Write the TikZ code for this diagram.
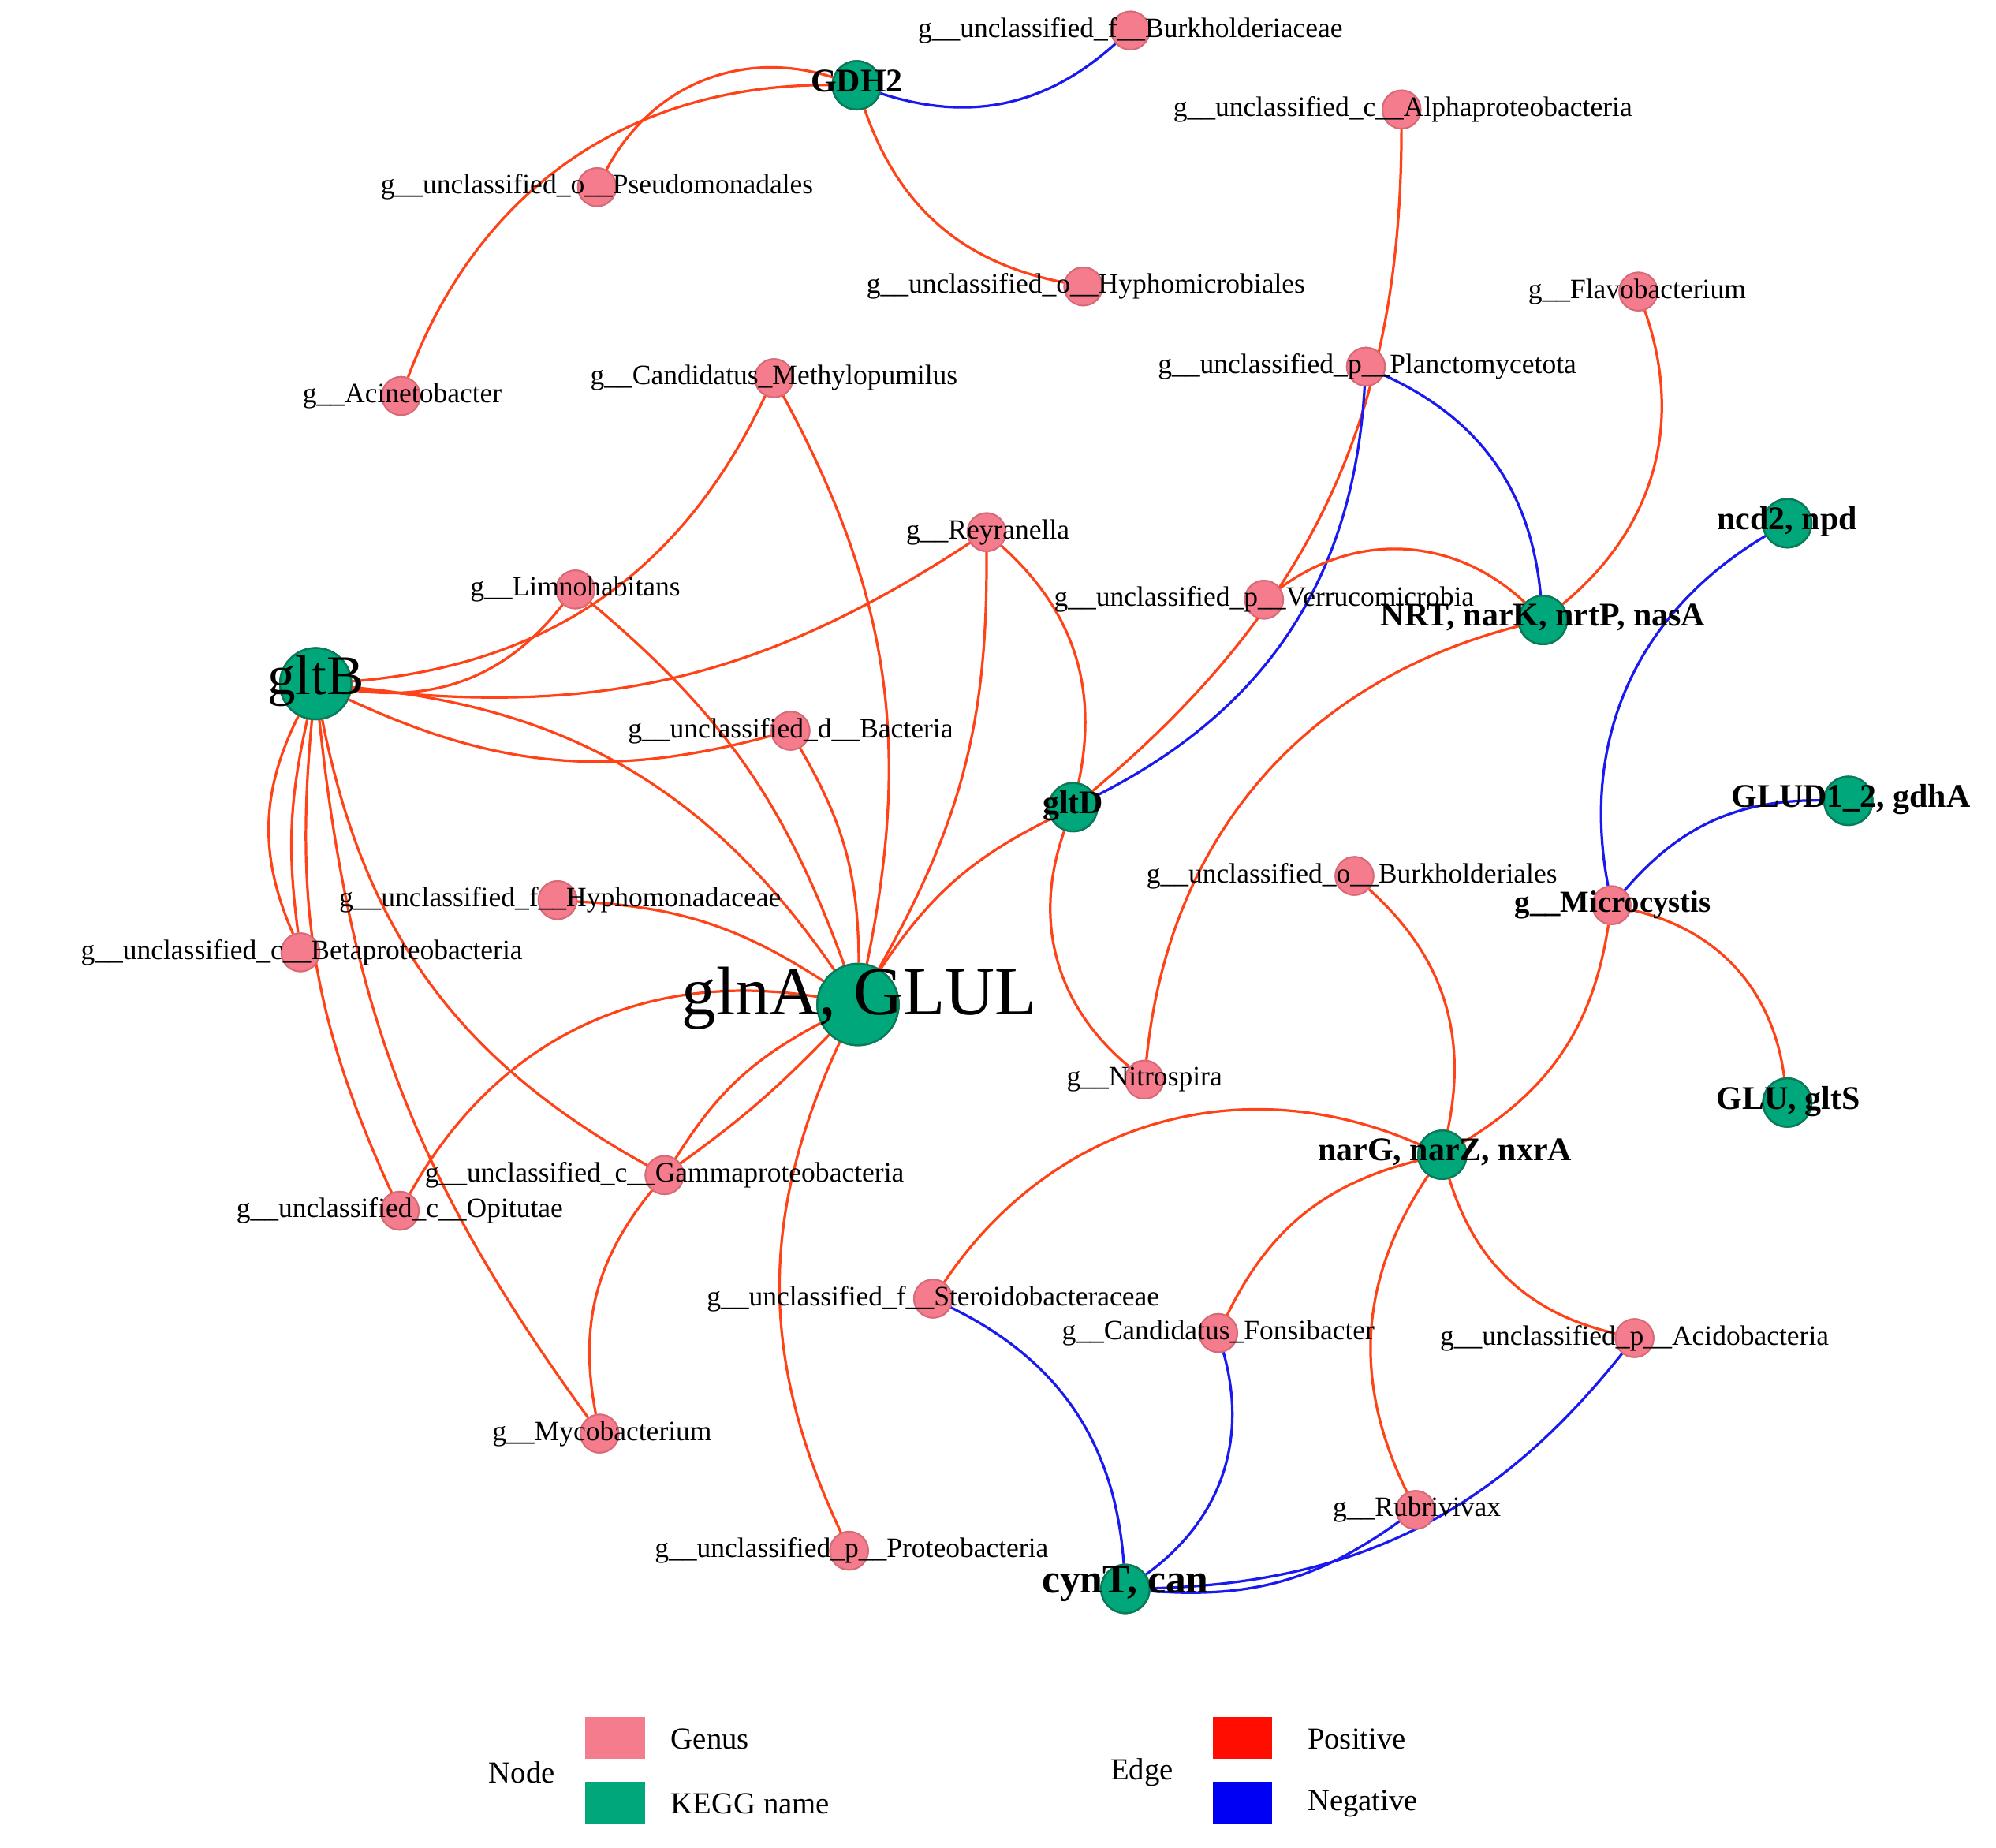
\documentclass[tikz,border=0pt]{standalone}
\usepackage{fontspec}
\setmainfont{Liberation Serif}
\begin{document}
\begin{tikzpicture}[x=1pt,y=-1pt,
 gen/.style={circle,fill=pinkc,draw=pinkd,line width=1.2pt,minimum size=30pt,inner sep=0pt},
 keg/.style={circle,fill=greenc,draw=greend,line width=1.5pt,minimum size=38pt,inner sep=0pt},
 lab/.style={font=\fontsize{22}{25}\selectfont,inner sep=0pt},
 klab/.style={font=\fontsize{26}{29}\selectfont\bfseries,inner sep=0pt},
 pe/.style={draw=posc,line width=2pt},
 ne/.style={draw=negc,line width=2pt},
 vl/.style={bend left=#1},
 vr/.style={bend right=#1}]
\definecolor{pinkc}{HTML}{F47C8C}\definecolor{pinkd}{HTML}{D86A78}
\definecolor{greenc}{HTML}{00A77A}\definecolor{greend}{HTML}{0A7A58}
\definecolor{posc}{HTML}{FF4218}\definecolor{negc}{HTML}{1A1AF0}
\useasboundingbox[fill=white] (0,0) rectangle (1568,1451);
% nodes
\node[keg] (gdh) at (673,67) {};
\node[gen] (burkf) at (888,24) {};
\node[gen] (alpha) at (1101,86) {};
\node[gen] (pseudo) at (469,147) {};
\node[gen] (hyphmi) at (851,225) {};
\node[gen] (flavo) at (1287,229) {};
\node[gen] (acin) at (315,311) {};
\node[gen] (methy) at (608,297) {};
\node[gen] (planc) at (1073,288) {};
\node[gen] (reyr) at (775,418) {};
\node[gen] (limno) at (452,463) {};
\node[gen] (verru) at (993,471) {};
\node[keg] (nrt) at (1212,487) {};
\node[keg] (ncd) at (1404,411) {};
\node[keg,minimum size=56pt] (gltb) at (248,537) {};
\node[gen] (bact) at (621,574) {};
\node[keg] (gltd) at (843,634) {};
\node[keg] (glud) at (1452,629) {};
\node[gen] (hyphmo) at (438,707) {};
\node[gen] (burko) at (1064,688) {};
\node[gen] (micro) at (1266,711) {};
\node[gen] (beta) at (236,748) {};
\node[keg,minimum size=64pt] (glna) at (674,789) {};
\node[gen] (nitro) at (899,848) {};
\node[keg] (glu) at (1404,866) {};
\node[keg] (narg) at (1133,907) {};
\node[gen] (gamma) at (522,923) {};
\node[gen] (opit) at (314,951) {};
\node[gen] (stero) at (733,1020) {};
\node[gen] (fonsi) at (957,1047) {};
\node[gen] (acido) at (1284,1051) {};
\node[gen] (myco) at (471,1126) {};
\node[gen] (rubri) at (1112,1186) {};
\node[gen] (prot) at (667,1218) {};
\node[keg] (cynt) at (884,1248) {};
% edges
\path[ne] (gdh) to[vr=30] (burkf);
\path[pe] (gdh) to[vr=40] (pseudo);
\path[pe] (gdh) to[vr=35] (acin);
\path[pe] (gdh) to[vr=30] (hyphmi);
\path[pe] (alpha) to[vl=25] (gltd);
\path[ne] (planc) to[vl=30] (gltd);
\path[ne] (planc) to[vl=30] (nrt);
\path[pe] (flavo) to[vl=35] (nrt);
\path[pe] (verru) to[vl=40] (nrt);
\path[pe] (nrt) to[vr=35] (nitro);
\path[ne] (ncd) to[vr=35] (micro);
\path[ne] (glud) to[vr=25] (micro);
\path[pe] (micro) to[vl=35] (glu);
\path[pe] (micro) to[vl=25] (narg);
\path[pe] (burko) to[vl=30] (narg);
\path[pe] (methy) to[vl=30] (gltb);
\path[pe] (methy) to[vl=20] (glna);
\path[pe] (reyr) to[vl=20] (gltb);
\path[pe] (reyr) to[vl=15] (glna);
\path[pe] (reyr) to[vl=30] (gltd);
\path[pe] (limno) to[vl=30] (gltb);
\path[pe] (limno) to[vl=15] (glna);
\path[pe] (gltb) to[vr=20] (bact);
\path[pe] (gltb) to[vl=25] (glna);
\path[pe] (hyphmo) to[vl=15] (glna);
\path[pe] (bact) to[vl=15] (glna);
\path[pe] (gltb) to[vr=25] (beta);
\path[pe] (gltb) to[vr=10] (beta);
\path[pe] (gltb) to[vr=15] (opit);
\path[pe] (gltb) to[vr=15] (myco);
\path[pe] (gltb) to[vr=25] (gamma);
\path[pe] (glna) to[vr=35] (opit);
\path[pe] (glna) to[vr=15] (gamma);
\path[pe] (glna) to[vl=5] (gamma);
\path[pe] (glna) to[vr=25] (prot);
\path[pe] (glna) to[vl=15] (gltd);
\path[pe] (gamma) to[vr=25] (myco);
\path[pe] (gltd) to[vr=35] (nitro);
\path[pe] (narg) to[vr=40] (stero);
\path[pe] (narg) to[vr=25] (fonsi);
\path[pe] (narg) to[vr=30] (acido);
\path[pe] (narg) to[vr=30] (rubri);
\path[ne] (stero) to[vl=30] (cynt);
\path[ne] (fonsi) to[vl=35] (cynt);
\path[ne] (acido) to[vl=25] (cynt);
\path[ne] (rubri) to[vl=20] (cynt);
% redraw nodes on top
\foreach \x/\y in {888/24,1101/86,469/147,851/225,1287/229,315/311,608/297,1073/288,775/418,452/463,993/471,621/574,438/707,1064/688,1266/711,236/748,899/848,522/923,314/951,733/1020,957/1047,1284/1051,471/1126,1112/1186,667/1218}
  \node[gen] at (\x,\y) {};
\foreach \x/\y in {673/67,1212/487,1404/411,843/634,1452/629,1404/866,1133/907,884/1248}
  \node[keg] at (\x,\y) {};
\node[keg,minimum size=56pt] at (248,537) {};
\node[keg,minimum size=64pt] at (674,789) {};
% labels
\node[lab] (l1) at (888,24) {g\_\_unclassified\_f\_\_Burkholderiaceae};
\node[lab] (l2) at (1102,86) {g\_\_unclassified\_c\_\_Alphaproteobacteria};
\node[lab] (l3) at (469,147) {g\_\_unclassified\_o\_\_Pseudomonadales};
\node[lab] (l4) at (853,225) {g\_\_unclassified\_o\_\_Hyphomicrobiales};
\node[lab] (l5) at (1286,229) {g\_\_Flavobacterium};
\node[lab] (l6) at (316,311) {g\_\_Acinetobacter};
\node[lab] (l7) at (608,297) {g\_\_Candidatus\_Methylopumilus};
\node[lab] (l8) at (1074,288) {g\_\_unclassified\_p\_\_Planctomycetota};
\node[lab] (l9) at (776,418) {g\_\_Reyranella};
\node[lab] (l10) at (452,463) {g\_\_Limnohabitans};
\node[lab] (l11) at (993,471) {g\_\_unclassified\_p\_\_Verrucomicrobia};
\node[lab] (l12) at (621,574) {g\_\_unclassified\_d\_\_Bacteria};
\node[lab] (l13) at (440,707) {g\_\_unclassified\_f\_\_Hyphomonadaceae};
\node[lab] (l14) at (1062,688) {g\_\_unclassified\_o\_\_Burkholderiales};
\node[lab] (l15) at (237,748) {g\_\_unclassified\_c\_\_Betaproteobacteria};
\node[lab] (l16) at (899,848) {g\_\_Nitrospira};
\node[lab] (l17) at (522,923) {g\_\_unclassified\_c\_\_Gammaproteobacteria};
\node[lab] (l18) at (314,951) {g\_\_unclassified\_c\_\_Opitutae};
\node[lab] (l19) at (733,1020) {g\_\_unclassified\_f\_\_Steroidobacteraceae};
\node[lab] (l20) at (957,1047) {g\_\_Candidatus\_Fonsibacter};
\node[lab] (l21) at (1284,1051) {g\_\_unclassified\_p\_\_Acidobacteria};
\node[lab] (l22) at (473,1126) {g\_\_Mycobacterium};
\node[lab] (l23) at (1113,1186) {g\_\_Rubrivivax};
\node[lab] (l24) at (669,1218) {g\_\_unclassified\_p\_\_Proteobacteria};
\node[klab,font=\fontsize{24}{27}\selectfont\bfseries] (l25) at (1267,711) {g\_\_Microcystis};
\node[klab] (k1) at (673,64) {GDH2};
\node[klab] (k2) at (1212,485) {NRT, narK, nrtP, nasA};
\node[klab] (k3) at (1404,410) {ncd2, npd};
\node[lab,font=\fontsize{44}{48}\selectfont] (k4) at (248,535) {gltB};
\node[klab] (k5) at (843,633) {gltD};
\node[klab] (k6) at (1454,628) {GLUD1\_2, gdhA};
\node[lab,font=\fontsize{54}{58}\selectfont] (k7) at (675,784) {glnA, GLUL};
\node[klab] (k8) at (1405,865) {GLU, gltS};
\node[klab] (k9) at (1135,905) {narG, narZ, nxrA};
\node[klab,font=\fontsize{32}{36}\selectfont\bfseries] (k10) at (884,1244) {cynT, can};
% legend
\node[lab,font=\fontsize{24}{28}\selectfont] (ln) at (410,1392) {Node};
\node[fill=pinkc,minimum width=47pt,minimum height=33pt,inner sep=0pt] (lp) at (483,1365) {};
\node[fill=greenc,minimum width=47pt,minimum height=33pt,inner sep=0pt] (lg) at (483,1416) {};
\node[lab,font=\fontsize{24}{28}\selectfont,anchor=west] (lpt) at (527,1366) {Genus};
\node[lab,font=\fontsize{24}{28}\selectfont,anchor=west] (lgt) at (527,1417) {KEGG name};
\node[lab,font=\fontsize{24}{28}\selectfont] (le) at (897,1392) {Edge};
\node[fill=red!90!orange,minimum width=47pt,minimum height=33pt,inner sep=0pt] (lr) at (976,1365) {};
\node[fill=blue!95!black,minimum width=47pt,minimum height=33pt,inner sep=0pt] (lb) at (976,1416) {};
\node[lab,font=\fontsize{24}{28}\selectfont,anchor=west] (lrt) at (1027,1366) {Positive};
\node[lab,font=\fontsize{24}{28}\selectfont,anchor=west] (lbt) at (1027,1417) {Negative};
\end{tikzpicture}
\end{document}
